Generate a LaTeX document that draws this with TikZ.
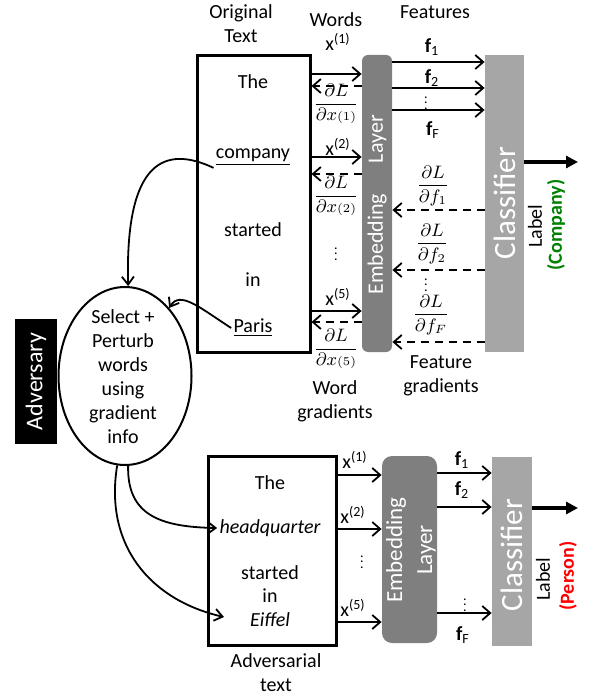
\documentclass[tikz,border=0pt]{standalone}
\usepackage{fontspec}
\setmainfont{Carlito}
\usepackage{graphicx}
\usetikzlibrary{arrows.meta,shapes.geometric}
\definecolor{embgray}{HTML}{7F7F7F}
\definecolor{clfgray}{HTML}{A6A6A6}
\definecolor{lblgreen}{HTML}{008000}
\definecolor{lblred}{HTML}{FF0000}
\newcommand{\vdt}{\scalebox{0.7}{$\vdots$}}
\newcommand{\gx}[1]{\displaystyle\frac{\partial L}{\partial x{\scriptstyle(#1)}}}
\newcommand{\gf}[1]{\displaystyle\frac{\partial L}{\partial f_{#1}}}
\tikzset{
  txt/.style={font=\fontsize{10}{12}\selectfont, inner sep=1pt},
  grd/.style={font=\fontsize{9}{11}\selectfont, inner sep=1pt},
  wordbox/.style={draw, line width=1.5pt, inner sep=0pt},
  embbox/.style={fill=embgray, rounded corners=3pt, inner sep=0pt},
  clfbox/.style={fill=clfgray, inner sep=0pt},
  vlab/.style={rotate=90, text=white, inner sep=0pt},
  fwd/.style={-{Straight Barb[length=4pt,width=7pt]}, line width=0.9pt},
  bwd/.style={-{Straight Barb[length=4pt,width=7pt]}, line width=0.9pt, dash pattern=on 4pt off 3pt},
  pick/.style={-{Straight Barb[length=4pt,width=6pt]}, line width=0.9pt},
  outarr/.style={-{Triangle[length=6pt,width=6pt]}, line width=1.8pt},
}
\begin{document}
\begin{tikzpicture}[x=0.5pt,y=-0.5pt]
  \useasboundingbox (0,0) rectangle (590,699);
  % rows of the arrows
  \coordinate (r1) at (0,74);   \coordinate (b1) at (0,86);
  \coordinate (r2) at (0,157);  \coordinate (b2) at (0,174);
  \coordinate (r5) at (0,311);  \coordinate (b5) at (0,322);
  \coordinate (q1) at (0,62);   \coordinate (q2) at (0,88);   \coordinate (q3) at (0,110);
  \coordinate (g1) at (0,210);  \coordinate (g2) at (0,270);  \coordinate (g3) at (0,342);
  \coordinate (out1) at (578,162);

  % original text
  \node[txt, align=center] (otitle) at (241,24) {Original\\Text};
  \node[wordbox, minimum width=56.5pt, minimum height=148pt] (otxt) at (253.5,204) {};
  \node[txt] (w1) at (253,82) {The};
  \node[txt] (w2) at (253,157) {\underline{company}};
  \node[txt] (w3) at (253,230) {started};
  \node[txt] (w4) at (253,280) {in};
  \node[txt] (w5) at (253,328) {\underline{Paris}};

  % embedding and classifier
  \node[embbox, minimum width=15pt, minimum height=148.5pt] (emb1) at (377,203.5) {};
  \node[vlab, font=\fontsize{11}{13}\selectfont] at (377,205) {Embedding\hspace{1.4em}Layer};
  \node[clfbox, minimum width=19.5pt, minimum height=148.5pt] (clf1) at (504.5,203.5) {};
  \node[vlab, font=\fontsize{15.5}{18}\selectfont] at (505,203) {Classifier};

  % words and their gradients
  \node[txt] (wtitle) at (336,20) {Words};
  \node[txt] (x1) at (338,42) {x\textsuperscript{(1)}};
  \node[txt] (x2) at (338,147) {x\textsuperscript{(2)}};
  \node[txt] (x5) at (338,297) {x\textsuperscript{(5)}};
  \node[grd] (dx1) at (336,104) {$\gx{1}$};
  \node[grd] (dx2) at (336,196) {$\gx{2}$};
  \node[grd] (dx5) at (336,349) {$\gx{5}$};
  \node[txt] (xdots) at (336,250) {\vdt};
  \node[txt, align=center] (wgrad) at (335,401) {Word\\gradients};
  \draw[fwd] (otxt.east |- r1) -- (emb1.west |- r1);
  \draw[bwd] (emb1.west |- b1) -- (otxt.east |- b1);
  \draw[fwd] (otxt.east |- r2) -- (emb1.west |- r2);
  \draw[bwd] (emb1.west |- b2) -- (otxt.east |- b2);
  \draw[fwd] (otxt.east |- r5) -- (emb1.west |- r5);
  \draw[bwd] (emb1.west |- b5) -- (otxt.east |- b5);

  % features and their gradients
  \node[txt] (ftitle) at (435,12) {Features};
  \node[txt] (f1) at (432,47) {\textbf{f}\textsubscript{1}};
  \node[txt] (f2) at (432,78) {\textbf{f}\textsubscript{2}};
  \node[txt] (fdots) at (426,99) {\vdt};
  \node[txt] (fF) at (433,130) {\textbf{f}\textsubscript{F}};
  \draw[fwd] (emb1.east |- q1) -- (clf1.west |- q1);
  \draw[fwd] (emb1.east |- q2) -- (clf1.west |- q2);
  \draw[fwd] (emb1.east |- q3) -- (clf1.west |- q3);
  \node[grd] (df1) at (433,186) {$\gf{1}$};
  \node[grd] (df2) at (432,244) {$\gf{2}$};
  \node[txt] (dfdots) at (426,281) {\vdt};
  \node[grd] (dfF) at (431,315) {$\gf{F}$};
  \draw[bwd] (clf1.west |- g1) -- (emb1.east |- g1);
  \draw[bwd] (clf1.west |- g2) -- (emb1.east |- g2);
  \draw[bwd] (clf1.west |- g3) -- (emb1.east |- g3);
  \node[txt, align=center] (fgrad) at (441,376) {Feature\\gradients};

  % label
  \draw[outarr] (clf1.east |- out1) -- (out1);
  \node[txt, rotate=90] (lab1) at (535,226) {Label};
  \node[txt, rotate=90, text=lblgreen, font=\fontsize{10}{12}\bfseries] (cls1) at (556,225) {(Company)};

  % adversary
  \node[fill=black, minimum width=21pt, minimum height=62.5pt, inner sep=0pt] (adv) at (36,381.5) {};
  \node[vlab, font=\fontsize{12}{14}\selectfont] at (adv) {Adversary};
  \node[draw, ellipse, line width=1pt, minimum width=66.5pt, minimum height=89pt, inner sep=0pt] (sel) at (125,376) {};
  \node[txt, align=center] (seltxt) at (123,377) {Select +\\Perturb\\words\\using\\gradient\\info};
  \draw[pick] (w2.south west) .. controls (165,145) and (125,160) .. (sel.88);
  \draw[pick] (w5.west) .. controls (200,308) and (180,290) .. (sel.57);

  % adversarial text
  \coordinate (s1) at (0,475); \coordinate (s2) at (0,529); \coordinate (s5) at (0,622);
  \coordinate (p1) at (0,473); \coordinate (p2) at (0,507); \coordinate (p3) at (0,613);
  \coordinate (out2) at (578,508);
  \coordinate (eifin) at (224,617);
  \node[wordbox, minimum width=64pt, minimum height=94.5pt] (atxt) at (272,550.5) {};
  \node[txt] (a1) at (270,483) {The};
  \node[txt] (a2) at (270,528) {\itshape headquarter};
  \node[txt] (a3) at (270,573) {started};
  \node[txt] (a4) at (270,596) {in};
  \node[txt] (a5) at (270,620) {\itshape Eiffel};
  \node[txt, align=center] (atitle) at (276,673) {Adversarial\\text};
  \draw[pick] (sel.-88) .. controls (127,515) and (160,527) .. (a2.west);
  \draw[pick] (sel.-95) .. controls (104,545) and (150,600) .. (eifin);

  \node[embbox, rounded corners=5pt, minimum width=27.5pt, minimum height=93.5pt] (emb2) at (409.5,549.5) {};
  \node[vlab, align=center, font=\fontsize{11.5}{15}\selectfont] at (411,550) {Embedding\\Layer};
  \node[clfbox, minimum width=20pt, minimum height=94.5pt] (clf2) at (512,551.5) {};
  \node[vlab, font=\fontsize{15.5}{18}\selectfont] at (512,555) {Classifier};

  \node[txt] (y1) at (355,460) {x\textsuperscript{(1)}};
  \node[txt] (y2) at (353,515) {x\textsuperscript{(2)}};
  \node[txt] (ydots) at (362,558) {\vdt};
  \node[txt] (y5) at (353,608) {x\textsuperscript{(5)}};
  \draw[fwd] (atxt.east |- s1) -- (emb2.west |- s1);
  \draw[fwd] (atxt.east |- s2) -- (emb2.west |- s2);
  \draw[fwd] (atxt.east |- s5) -- (emb2.west |- s5);

  \node[txt] (h1) at (462,460) {\textbf{f}\textsubscript{1}};
  \node[txt] (h2) at (462,490) {\textbf{f}\textsubscript{2}};
  \node[txt] (hdots) at (465,601) {\vdt};
  \node[txt] (hF) at (463,635) {\textbf{f}\textsubscript{F}};
  \draw[fwd] (emb2.east |- p1) -- (clf2.west |- p1);
  \draw[fwd] (emb2.east |- p2) -- (clf2.west |- p2);
  \draw[fwd] (emb2.east |- p3) -- (clf2.west |- p3);

  \draw[outarr] (clf2.east |- out2) -- (out2);
  \node[txt, rotate=90] (lab2) at (543,579) {Label};
  \node[txt, rotate=90, text=lblred, font=\fontsize{10}{12}\bfseries] (cls2) at (568,576) {(Person)};
\end{tikzpicture}
\end{document}
